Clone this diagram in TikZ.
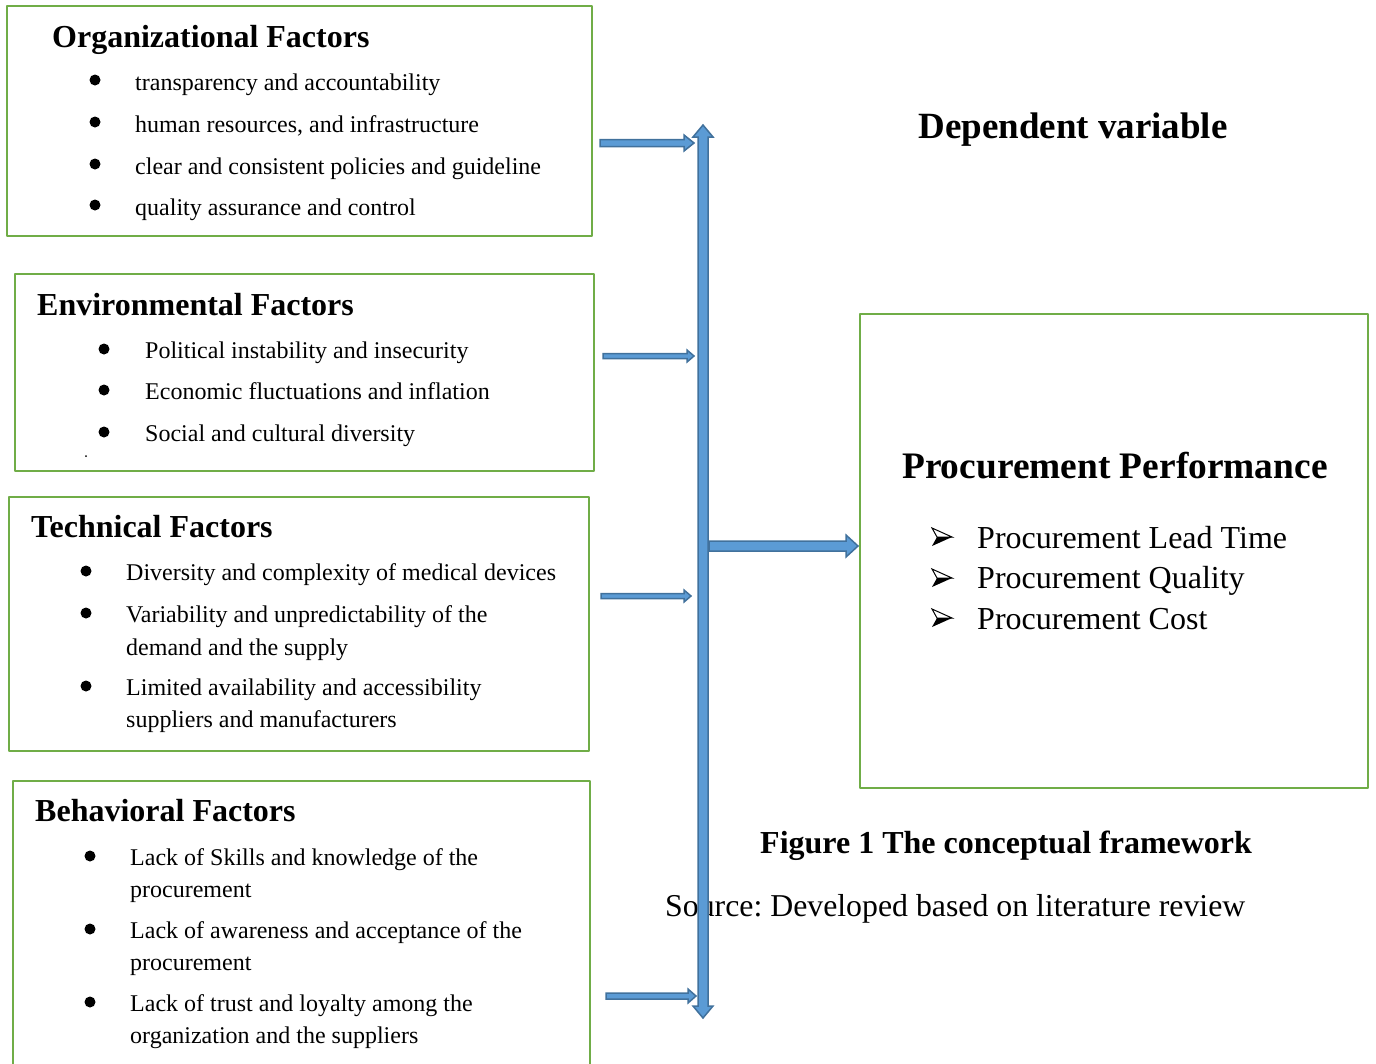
\documentclass[tikz,border=0pt]{standalone}
\usepackage{fontspec}
\setmainfont{Liberation Serif}
\usetikzlibrary{positioning,calc}

\definecolor{boxgreen}{HTML}{70AD47}
\definecolor{arrowblue}{HTML}{5B9BD5}
\definecolor{arrowedge}{HTML}{41719C}

\tikzset{
  factorbox/.style={draw=boxgreen,line width=2.5pt},
  blockarrow/.style={fill=arrowblue,draw=arrowedge,line width=1.5pt,line join=miter},
  boxtitle/.style={anchor=base west,inner sep=0pt,font=\fontsize{32}{34}\selectfont\bfseries},
  item/.style={anchor=base west,inner sep=0pt,font=\fontsize{24}{26}\selectfont},
  bigtitle/.style={anchor=base west,inner sep=0pt,font=\fontsize{37.4}{40}\selectfont\bfseries},
  perfitem/.style={anchor=base west,inner sep=0pt,font=\fontsize{32}{34}\selectfont},
  dot/.style={circle,fill=black,inner sep=0pt,minimum size=11pt},
  arrowbullet/.pic={
    \draw[line width=1pt,line join=miter] (10,0) -- (-10,-9) -- (-5,0) -- cycle;
    \fill[line join=miter] (10,0) -- (-5,0) -- (-10,9) -- cycle;
  }
}

% block arrow: from, to, half shaft, half head, head length
\newcommand\blockarrow[5]{%
  \draw[blockarrow] ($(#1)+(0,-#3)$) -- ($(#2)+(-#5,-#3)$) -- ($(#2)+(-#5,-#4)$)
    -- (#2) -- ($(#2)+(-#5,#4)$) -- ($(#2)+(-#5,#3)$) -- ($(#1)+(0,#3)$) -- cycle;}

\begin{document}
\frenchspacing
\begin{tikzpicture}[x=1pt,y=-1pt,line cap=round,line join=round]
\useasboundingbox (0,0) rectangle (1376,1063);

%% boxes
\draw[factorbox] (7,6) rectangle (592,236);
\draw[factorbox] (15,274) rectangle (594,471);
\draw[factorbox] (9,497) rectangle (589,751);
\draw[factorbox] (13,1070) -- (13,781) -- (590,781) -- (590,1070);
\draw[factorbox] (860,314) rectangle (1368,788);

%% organizational
\node[boxtitle] (org) at (52,47) {Organizational Factors};
\node[item] (org1) at (135,90) {transparency and accountability};
\node[item] (org2) at (135,132) {human resources, and infrastructure};
\node[item] (org3) at (135,174) {clear and consistent policies and guideline};
\node[item] (org4) at (135,215) {quality assurance and control};
\foreach \y in {80,122,164,205}
  \node[dot] at (95,\y) {};

%% environmental
\node[boxtitle] (env) at (37,315) {Environmental Factors};
\node[item] (env1) at (145,358) {Political instability and insecurity};
\node[item] (env2) at (145,399) {Economic fluctuations and inflation};
\node[item] (env3) at (145,441) {Social and cultural diversity};
\foreach \y in {349,390,432}
  \node[dot] at (104,\y) {};
\fill (86,456) circle (1pt);

%% technical
\node[boxtitle] (tech) at (31,537) {Technical Factors};
\node[item] (tech1) at (126,580) {Diversity and complexity of medical devices};
\node[item] (tech2) at (126,622) {Variability and unpredictability of the};
\node[item] (tech2b) at (126,655) {demand and the supply};
\node[item] (tech3) at (126,695) {Limited availability and accessibility};
\node[item] (tech3b) at (126,727) {suppliers and manufacturers};
\foreach \y in {571,613,686}
  \node[dot] at (86,\y) {};

%% behavioral
\node[boxtitle] (beh) at (35,821) {Behavioral Factors};
\node[item] (beh1) at (130,865) {Lack of Skills and knowledge of the};
\node[item] (beh1b) at (130,897) {procurement};
\node[item] (beh2) at (130,938) {Lack of awareness and acceptance of the};
\node[item] (beh2b) at (130,970) {procurement};
\node[item] (beh3) at (130,1011) {Lack of trust and loyalty among the};
\node[item] (beh3b) at (130,1043) {organization and the suppliers};
\foreach \y in {856,929,1002}
  \node[dot] at (90,\y) {};

%% dependent side
\node[anchor=base,inner sep=0pt,font=\fontsize{37}{40}\selectfont\bfseries] (dep) at (1073,138) {Dependent variable};
\node[bigtitle] (perf) at (902,478) {Procurement Performance};
\node[perfitem] (perf1) at (977,548) {Procurement Lead Time};
\node[perfitem] (perf2) at (977,588) {Procurement Quality};
\node[perfitem] (perf3) at (977,629) {Procurement Cost};
\foreach \y in {537,578,618}
  \pic at (942,\y) {arrowbullet};

\node[anchor=base west,inner sep=0pt,font=\fontsize{32}{34}\selectfont\bfseries] (fig) at (760,853) {Figure 1 The conceptual framework};
\node[anchor=base west,inner sep=0pt,font=\fontsize{31.8}{34}\selectfont] (src) at (665,916) {Source: Developed based on literature review};

%% arrows
\coordinate (o-tail) at (600,143);  \coordinate (o-tip) at (694,143);
\coordinate (e-tail) at (603,356);  \coordinate (e-tip) at (694,356);
\coordinate (t-tail) at (601,596);  \coordinate (t-tip) at (691,596);
\coordinate (b-tail) at (606,996);  \coordinate (b-tip) at (696,996);
\coordinate (p-tail) at (709,546);  \coordinate (p-tip) at (858,546);
\blockarrow{o-tail}{o-tip}{3.5}{8}{10}
\blockarrow{e-tail}{e-tip}{2.5}{6}{7}
\blockarrow{t-tail}{t-tip}{2.5}{6}{7}
\blockarrow{b-tail}{b-tip}{3}{7}{8}
\blockarrow{p-tail}{p-tip}{5}{11}{12}

% vertical double arrow
\draw[blockarrow] (703,125) -- (713,137) -- (708,137) -- (708,1006) -- (713,1006)
  -- (703,1018) -- (693,1006) -- (698,1006) -- (698,137) -- (693,137) -- cycle;
\end{tikzpicture}
\end{document}
